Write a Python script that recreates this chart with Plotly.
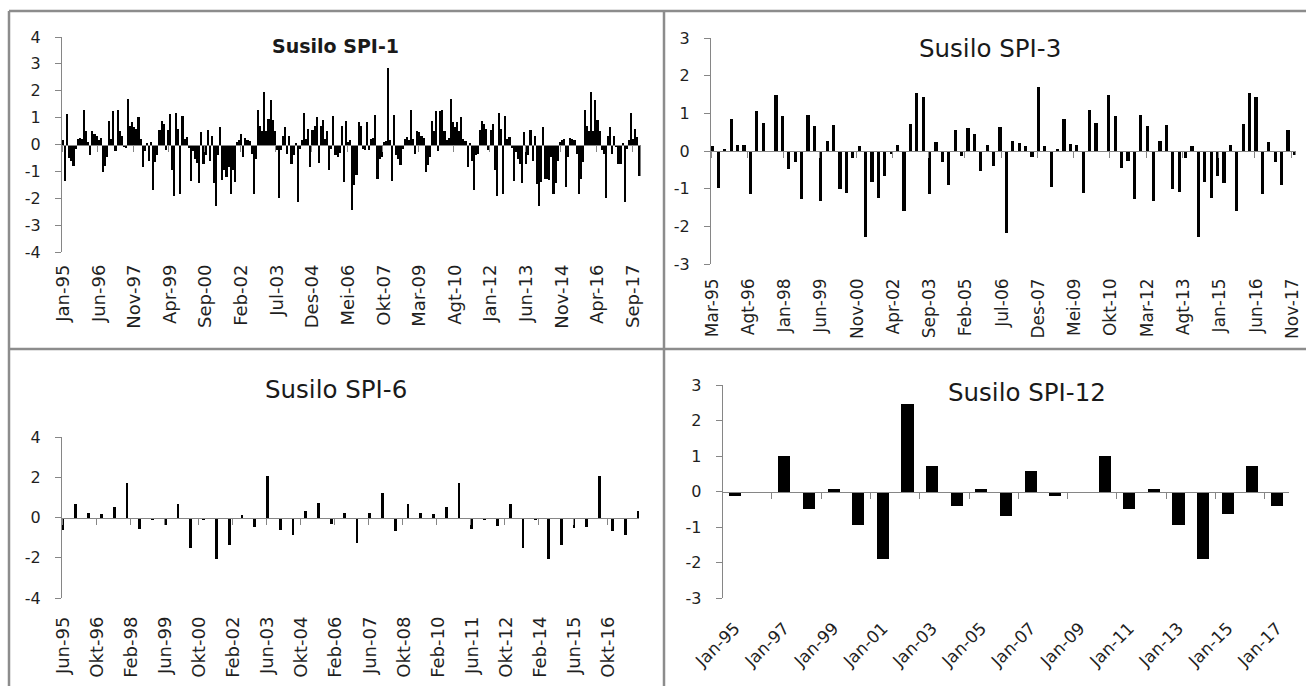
import plotly.graph_objects as go

W, H = 1306, 686

# ---------------- data ----------------
# SPI-1: monthly, Jan-95 .. Dec-17
spi1_values = [
    0.18, -1.35, 1.12, -0.5, -0.6, -0.8, -0.15, 0.22, 0.25, 0.2,
    1.28, 0.5, 0.1, -0.4, 0.5, 0.4, 0.3, 0.15, 0.25, -1.02,
    -0.8, -0.48, 0.88, 0.2, 1.23, -0.25, 1.28, 0.5, 0.3, -0.1,
    -0.12, 1.7, 0.7, 0.83, 0.65, 0.58, 1.03, 0.2, -0.84, -0.25,
    0.05, -0.6, 0.08, -1.7, -0.65, -0.4, 0.55, 0.88, 0.77, -0.22,
    0.55, 1.13, -0.96, -1.9, 1.17, 0.58, -1.83, 1.07, 0.2, 0.27,
    -0.12, -1.36, -0.25, -0.53, -0.7, -1.45, 0.46, -0.72,
    -0.4, 0.55, -0.62, 0.33, -1.45, -2.3, -0.38, 0.64, -1.33, -0.96,
    -1.2, -0.84, -1.83, -0.96, -1.4, 0.1, 0.17, 0.4, -0.47, 0.25,
    0.17, 0.12, -0.35, -1.83, -0.53, 1.28, 0.67, 0.52, 1.94, 0.52,
    0.95, 1.65, 0.91, 0.52, -0.2, -2.0, -0.22, 0.3, 0.64, -0.35,
    0.33, -0.74, -0.4, 0.05, -2.13, -0.16, 0.15, 1.16, 0.2, 0.58,
    -0.84, 0.55, 0.7, 1.04, -0.69, 0.67, 0.91, 0.2, 0.52, -0.94,
    -0.16, 1.07, -0.4, -0.47, -0.32, 0.7, -1.4, 0.89,
    0.08, 0.17, -2.44, -1.52, -1.15, 0.83, 0.67, -0.16, -0.2, 0.83,
    -0.22, 0.21, 0.25, 1.11, -1.27, -0.53, -0.45, 0.09, 0.12, 2.86,
    0.15, -1.36, 1.11, -0.4, -0.53, -0.78, -0.16, 0.21, 0.27, 0.15,
    1.28, 0.21, -0.37, 0.52, 0.46, 0.3, 0.25, -1.02, -0.78, -0.47,
    0.89, 0.52, 1.23, -0.25, 1.26, 1.28, 0.52, 0.15, 0.25, 1.69,
    0.83, 0.64, 0.83, 0.52, 1.04, 0.2, 0.12, -0.84, 0.05, -0.6,
    -1.7, -0.4, -0.35, 0.55, 0.89, 0.77, 0.57, -0.22, 0.55, 0.77,
    -0.96,
    -1.9, 1.16, 0.58, -1.83, 1.07, 0.2, 0.27, -0.12, -1.36, -0.28,
    -0.53, -0.72, -1.45, 0.46, -0.72, -0.4, 0.55, -0.62, 0.33, -1.48,
    -2.3, -1.4, 0.64, -1.27, -1.27, -1.33, -0.47, -1.83, -1.45, -0.6,
    0.08, 0.17, 0.21, -1.58, -0.47, 0.25, 0.21, 0.17, -0.37, -1.83,
    -1.3, -0.65, 1.28, 0.7, 0.52, 1.94, 0.52, 1.65, 0.91, 0.52,
    -0.2, -0.37, -2.0, 0.3, 0.64, -0.37, 0.33, -0.1, -0.72, -0.74,
    0.05, -2.13, -0.16, 0.15, 1.16, 0.2, 0.58, 0.27, -1.18,
]
spi1_ticklabels = ["Jan-95", "Jun-96", "Nov-97", "Apr-99", "Sep-00", "Feb-02",
                   "Jul-03", "Des-04", "Mei-06", "Okt-07", "Mar-09", "Agt-10",
                   "Jan-12", "Jun-13", "Nov-14", "Apr-16", "Sep-17"]

# SPI-3: every 3 months, Mar-95 .. Dec-17 (monthly category axis)
spi3_values = [
    0.12, -0.97, 0.06, 0.84, 0.17, 0.15, -1.13, 1.05, 0.75, -0.03,
    1.5, 0.92, -0.47, -0.29, -1.28, 0.95, 0.66, -1.34, 0.27, 0.69,
    -1.0, -1.12, -0.19, 0.12, -2.28, -0.82, -1.25, -0.67, -0.09, 0.15,
    -1.59, 0.73, 1.55, 1.43, -1.13, 0.24, -0.28, -0.91, 0.55, -0.12,
    0.61, 0.44, -0.53, 0.15, -0.41, 0.64, -2.18, 0.27, 0.21, 0.13,
    -0.16, 1.7, 0.13, -0.96, 0.06, 0.85, 0.18, 0.15, -1.12, 1.08,
    0.75, -0.03, 1.5, 0.93, -0.44, -0.27, -1.28, 0.96, 0.66, -1.33,
    0.27, 0.7, -1.0, -1.1, -0.19, 0.13, -2.28, -0.82, -1.25, -0.67,
    -0.85, 0.15, -1.59, 0.73, 1.55, 1.43, -1.13, 0.24, -0.28, -0.91,
    0.55, -0.1,
]
spi3_ticklabels = ["Mar-95", "Agt-96", "Jan-98", "Jun-99", "Nov-00", "Apr-02",
                   "Sep-03", "Feb-05", "Jul-06", "Des-07", "Mei-09", "Okt-10",
                   "Mar-12", "Agt-13", "Jan-15", "Jun-16", "Nov-17"]

# SPI-6: every 6 months, Jun-95 .. Dec-17 (monthly category axis)
spi6_values = [
    -0.63, 0.65, 0.2, 0.15, 0.53, 1.7, -0.58, -0.13, -0.38, 0.65,
    -1.52, -0.13, -2.05, -1.35, 0.12, -0.47, 2.07, -0.63, -0.85, 0.32,
    0.7, -0.3, 0.2, -1.25, 0.2, 1.2, -0.67, 0.65, 0.2, 0.15,
    0.53, 1.7, -0.58, -0.13, -0.42, 0.65, -1.52, -0.13, -2.08, -1.35,
    -0.52, -0.47, 2.07, -0.67, -0.85, 0.32,
]
spi6_ticklabels = ["Jun-95", "Okt-96", "Feb-98", "Jun-99", "Okt-00", "Feb-02",
                   "Jun-03", "Okt-04", "Feb-06", "Jun-07", "Okt-08", "Feb-10",
                   "Jun-11", "Okt-12", "Feb-14", "Jun-15", "Okt-16"]

# SPI-12: yearly, Jan-95 .. Jan-17
spi12_values = [-0.14, -0.05, 1.0, -0.49, 0.06, -0.95, -1.9, 2.46, 0.73, -0.42,
                0.07, -0.7, 0.57, -0.14, -0.05, 1.0, -0.49, 0.06, -0.95, -1.9,
                -0.64, 0.73, -0.42]
spi12_ticklabels = ["Jan-95", "Jan-97", "Jan-99", "Jan-01", "Jan-03", "Jan-05",
                    "Jan-07", "Jan-09", "Jan-11", "Jan-13", "Jan-15", "Jan-17"]

titles = ["Susilo SPI-1", "Susilo SPI-3", "Susilo SPI-6", "Susilo SPI-12"]

# ---------------- layout helpers ----------------
FONT = "DejaVu Sans"
TXT = "#1f1f1f"
GRAY = "#868686"
BORDER = "#8c8c8c"


def dx(a, b):
    return [a / W, b / W]


def dy(top, bottom):
    return [1 - bottom / H, 1 - top / H]


panels = [
    dict(values=spi1_values, step=1, ncat=276, labels=spi1_ticklabels, lstep=17,
         box=(62, 640.5, 37, 252), yr=4, ydt=1, width=1.0, angle=-90,
         xfs=18, yfs=16, title=titles[0], tpos=(335, 46), tfs=19, bold=True,
         tickstep=17, xstand=8),
    dict(values=spi3_values, step=3, ncat=274, labels=spi3_ticklabels, lstep=17,
         box=(711, 1295.5, 38, 264), yr=3, ydt=1, width=1.5, angle=-90,
         xfs=17, yfs=16, title=titles[1], tpos=(990, 48), tfs=24.5, bold=False,
         tickstep=17, xstand=10),
    dict(values=spi6_values, step=6, ncat=271, labels=spi6_ticklabels, lstep=16,
         box=(62, 639, 437, 598), yr=4, ydt=2, width=1.3, angle=-90,
         xfs=18, yfs=16, title=titles[2], tpos=(336, 389), tfs=24.5, bold=False,
         tickstep=16, xstand=14),
    dict(values=spi12_values, step=1, ncat=23, labels=spi12_ticklabels, lstep=2,
         box=(722.7, 1289.4, 385, 598), yr=3, ydt=1, width=0.49, angle=-45,
         xfs=17, yfs=16, title=titles[3], tpos=(1027, 392), tfs=24.5, bold=False,
         tickstep=2, xstand=16),
]

fig = go.Figure()
layout = dict(
    width=W, height=H, autosize=False,
    margin=dict(l=0, r=0, t=0, b=0, pad=0, autoexpand=False),
    paper_bgcolor="white", plot_bgcolor="white",
    showlegend=False,
    font=dict(family=FONT, color=TXT, size=15),
    bargap=0,
)
annotations = []

for i, p in enumerate(panels):
    n = i + 1
    xa = "x" if n == 1 else f"x{n}"
    ya = "y" if n == 1 else f"y{n}"
    xt = f"x{n + 4}"
    x0, x1, ytop, ybot = p["box"]
    rng = [-0.5, p["ncat"] - 0.5]
    xs = [k * p["step"] for k in range(len(p["values"]))]

    fig.add_trace(go.Bar(x=xs, y=p["values"], xaxis=xa, yaxis=ya,
                         width=p["width"], marker=dict(color="black", line=dict(width=0)),
                         hoverinfo="skip"))
    fig.add_trace(go.Scatter(x=[None], y=[None], xaxis=xt, yaxis=ya, mode="markers",
                             hoverinfo="skip", showlegend=False))

    label_pos = [k * p["lstep"] for k in range(len(p["labels"]))]
    tick_pos = [k * p["tickstep"] - 0.5 for k in range(int(p["ncat"] / p["tickstep"]) + 1)]

    layout["xaxis" if n == 1 else f"xaxis{n}"] = dict(
        domain=dx(x0, x1), range=rng, anchor=ya,
        tickmode="array", tickvals=label_pos, ticktext=p["labels"],
        tickangle=p["angle"], tickfont=dict(size=p["xfs"], color=TXT, family=FONT),
        showline=False, ticks="", showgrid=False, zeroline=False,
        ticklabelstandoff=p["xstand"], fixedrange=True, automargin=False,
    )
    yvals = list(range(-p["yr"], p["yr"] + 1, p["ydt"]))
    layout["yaxis" if n == 1 else f"yaxis{n}"] = dict(
        domain=dy(ytop, ybot), range=[-p["yr"], p["yr"]], anchor=xa,
        tickmode="array", tickvals=yvals, ticktext=[str(v) for v in yvals],
        showline=True, linecolor=GRAY, linewidth=1,
        ticks="outside", ticklen=6, tickcolor=GRAY, tickwidth=1,
        showgrid=False, zeroline=False,
        tickfont=dict(size=p["yfs"], color=TXT, family=FONT),
        ticklabelstandoff=11, fixedrange=True, automargin=False,
    )
    zero_paper = 1 - ((ytop + ybot) / 2) / H
    layout[f"xaxis{n + 4}"] = dict(
        overlaying=xa, anchor="free", position=zero_paper, range=rng,
        tickmode="array", tickvals=tick_pos, ticks="outside", ticklen=6,
        tickcolor=GRAY, tickwidth=1, showticklabels=False,
        showline=True, linecolor=GRAY, linewidth=1,
        showgrid=False, zeroline=False, fixedrange=True, automargin=False,
    )
    tx, ty = p["tpos"]
    annotations.append(dict(
        text=f"<b>{p['title']}</b>" if p["bold"] else p["title"],
        x=tx / W, y=1 - ty / H, xref="paper", yref="paper",
        xanchor="center", yanchor="middle", showarrow=False,
        font=dict(size=p["tfs"], color="#1a1a1a", family=FONT),
    ))

layout["annotations"] = annotations


# panel border lines (gray frame between the four charts)
def line(xa0, ya0, xa1, ya1):
    return dict(type="line", xref="paper", yref="paper",
                x0=xa0 / W, y0=1 - ya0 / H, x1=xa1 / W, y1=1 - ya1 / H,
                line=dict(color=BORDER, width=2.5))


layout["shapes"] = [
    line(9, 11, W, 11),
    line(9, 11, 9, H),
    line(664, 11, 664, H),
    line(9, 349, W, 349),
]

fig.update_layout(**layout)
fig.write_html("out.html", config={"displayModeBar": False, "staticPlot": True})
